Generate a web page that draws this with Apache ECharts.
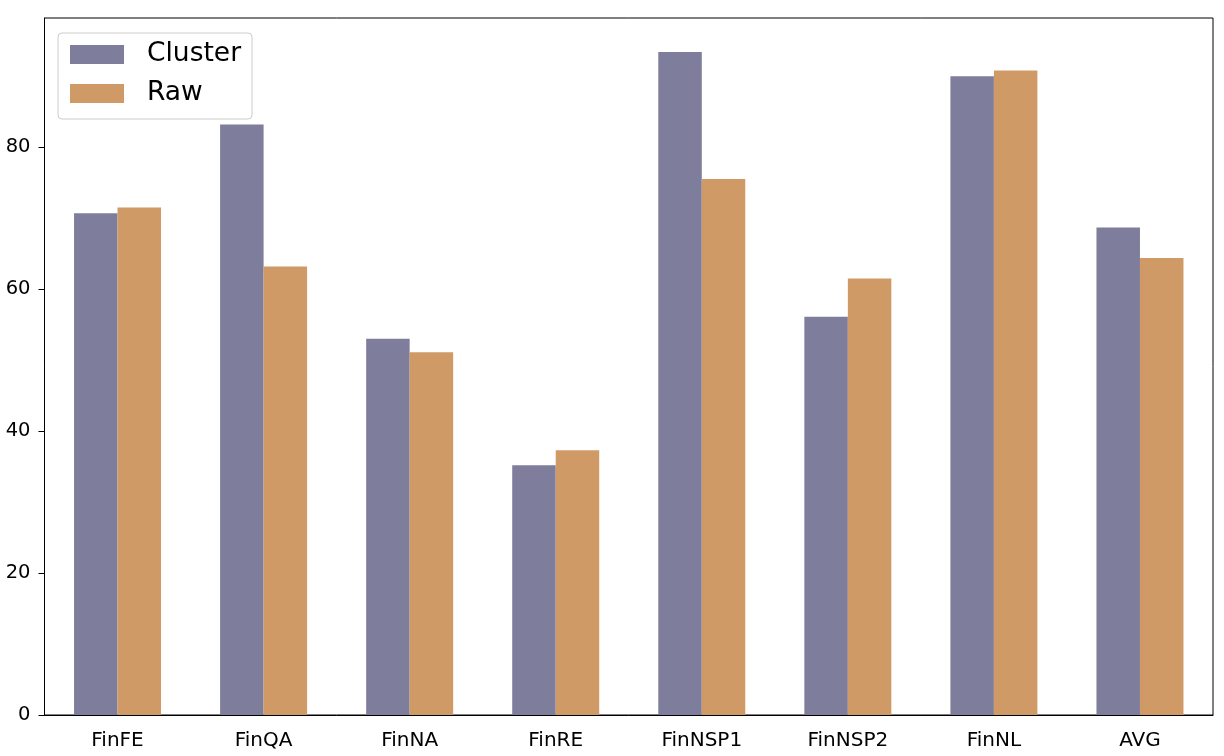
<!DOCTYPE html>
<html>
<head>
<meta charset="utf-8">
<script src="https://cdn.jsdelivr.net/npm/echarts@6/dist/echarts.min.js"></script>
<style>
html,body{margin:0;padding:0;background:#fff;}
#chart{width:1224px;height:756px;}
</style>
</head>
<body>
<div id="chart"></div>
<script>
const categories = ['FinFE','FinQA','FinNA','FinRE','FinNSP1','FinNSP2','FinNL','AVG'];
const clusterValues = [70.7, 83.2, 53.0, 35.2, 93.4, 56.1, 90.0, 68.7];
const rawValues = [71.5, 63.2, 51.1, 37.3, 75.5, 61.5, 90.8, 64.4];
const yTicks = [0, 20, 40, 60, 80];

const chart = echarts.init(document.getElementById('chart'), null, {renderer: 'canvas'});
const font = 'DejaVu Sans';
chart.setOption({
  animation: false,
  backgroundColor: '#ffffff',
  grid: {left: 44.5, right: 11, top: 18, bottom: 41, show: true, borderColor: '#000', borderWidth: 1, backgroundColor: 'transparent'},
  legend: {
    orient: 'vertical', left: 58, top: 33,
    padding: [8, 11, 12, 12],
    itemWidth: 54, itemHeight: 19, itemGap: 12,
    borderColor: '#cccccc', borderWidth: 1, borderRadius: 4,
    backgroundColor: 'rgba(255,255,255,0.8)',
    icon: 'rect',
    textStyle: {fontFamily: font, fontSize: 26.5, color: '#000', lineHeight: 24, padding: [0, 0, 0, 18]},
    data: ['Cluster', 'Raw']
  },
  xAxis: {
    type: 'category', data: categories,
    axisLine: {lineStyle: {color: '#000', width: 1}},
    axisTick: {alignWithLabel: true, length: 6, lineStyle: {color: '#000'}},
    axisLabel: {fontFamily: font, fontSize: 20, color: '#000', margin: 16}
  },
  yAxis: {
    type: 'value', min: 0, max: 98.2, interval: 20,
    splitLine: {show: false},
    axisLine: {show: true, lineStyle: {color: '#000', width: 1}},
    axisTick: {show: true, length: 6, lineStyle: {color: '#000'}},
    axisLabel: {fontFamily: font, fontSize: 19.5, color: '#000', margin: 14, showMaxLabel: false,
      formatter: v => yTicks.includes(v) ? String(v) : ''}
  },
  series: [
    {name: 'Cluster', type: 'bar', data: clusterValues, barWidth: 43.5, barGap: '0%', itemStyle: {color: '#7f7d9c'}},
    {name: 'Raw', type: 'bar', data: rawValues, barWidth: 43.5, barGap: '0%', itemStyle: {color: '#d09a66'}}
  ]
});
</script>
</body>
</html>
